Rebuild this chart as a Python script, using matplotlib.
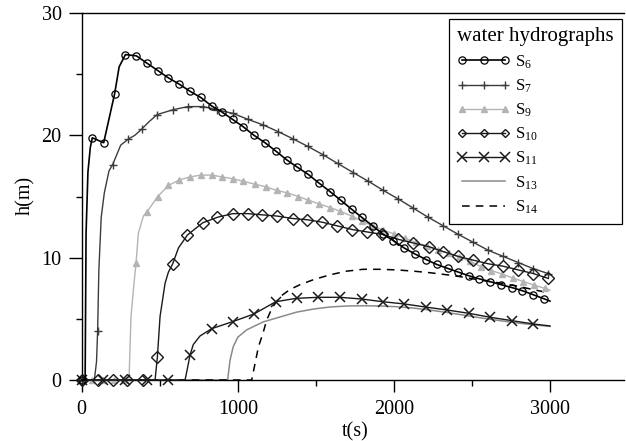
import numpy as np
import matplotlib
matplotlib.use("Agg")
import matplotlib.pyplot as plt

plt.rcParams['font.family'] = ['Liberation Serif', 'DejaVu Serif']
plt.rcParams['mathtext.fontset'] = 'custom'
plt.rcParams['mathtext.rm'] = 'Liberation Serif'
plt.rcParams['mathtext.it'] = 'Liberation Serif:italic'

# --- S6 (circles): sampled points shown with markers, extra points on the steep parts
t6 = [0, 68, 141, 211, 280, 350, 418, 487, 555, 623, 694, 762, 833, 899, 967, 1035,
      1104, 1174, 1245, 1313, 1381, 1452, 1520, 1591, 1659, 1730, 1794, 1864, 1932,
      1996, 2065, 2135, 2206, 2274, 2345, 2413, 2481, 2547, 2616, 2684, 2755, 2823,
      2893, 2962]
h6 = [0, 19.8, 19.4, 23.4, 26.6, 26.5, 25.9, 25.3, 24.7, 24.2, 23.6, 23.1, 22.4, 21.9,
      21.3, 20.7, 20.0, 19.4, 18.7, 18.0, 17.4, 16.8, 16.1, 15.4, 14.7, 13.95, 13.3,
      12.6, 11.9, 11.4, 10.8, 10.3, 9.85, 9.45, 9.12, 8.82, 8.52, 8.27, 8.04, 7.8,
      7.56, 7.3, 6.97, 6.64]
t6_extra = [22, 28, 40, 55, 240, 3000]
h6_extra = [0, 12, 17, 19, 25.6, 6.45]

# --- S7 (plus)
t7 = [0, 102, 198, 299, 384, 484, 587, 681, 779, 865, 967, 1067, 1163, 1259, 1356,
      1448, 1548, 1640, 1740, 1836, 1932, 2028, 2124, 2220, 2317, 2413, 2509, 2605,
      2701, 2797, 2893, 2989]
h7 = [0, 4.0, 17.6, 19.7, 20.5, 21.7, 22.1, 22.35, 22.35, 22.1, 21.8, 21.3, 20.85,
      20.3, 19.7, 19.1, 18.4, 17.7, 16.95, 16.25, 15.5, 14.8, 14.05, 13.3, 12.6, 11.9,
      11.25, 10.6, 10.1, 9.6, 9.1, 8.7]
t7_extra = [81, 95, 110, 125, 145, 175, 250, 340, 430, 3000]
h7_extra = [0, 1.5, 9.0, 13.3, 15.3, 17.1, 19.2, 20.0, 21.1, 8.6]

# --- S9 (triangles)
t9 = [0, 69, 139, 208, 278, 348, 416, 487, 555, 625, 694, 762, 833, 901, 967, 1035,
      1110, 1179, 1249, 1317, 1388, 1452, 1520, 1591, 1655, 1730, 1794, 1864, 1932,
      2000, 2070, 2140, 2210, 2280, 2350, 2420, 2490, 2560, 2625, 2695, 2760, 2830,
      2900, 2965]
h9 = [0, 0, 0, 0, 0, 9.54, 13.7, 15.0, 15.9, 16.35, 16.6, 16.75, 16.75, 16.6, 16.45,
      16.25, 16.0, 15.8, 15.5, 15.3, 15.0, 14.7, 14.4, 14.1, 13.8, 13.4, 13.0, 12.6,
      12.25, 11.95, 11.6, 11.25, 10.95, 10.65, 10.35, 10.05, 9.7, 9.25, 8.95, 8.65,
      8.35, 8.05, 7.75, 7.5]
t9_extra = [303, 316, 335, 363, 395, 3000]
h9_extra = [0, 5.2, 7.9, 12.0, 13.4, 7.35]

# --- S10 (diamonds)
t10 = [0, 102, 199, 288, 395, 485, 583, 677, 775, 869, 967, 1063, 1157, 1253, 1352,
       1445, 1541, 1637, 1734, 1830, 1926, 2028, 2124, 2225, 2316, 2413, 2509, 2605,
       2701, 2797, 2893, 2989]
h10 = [0, 0, 0, 0, 0, 1.9, 9.5, 11.85, 12.85, 13.3, 13.6, 13.6, 13.5, 13.4, 13.2,
       13.1, 12.9, 12.6, 12.3, 12.1, 11.9, 11.5, 11.2, 10.9, 10.5, 10.1, 9.8, 9.5,
       9.3, 9.0, 8.7, 8.3]
t10_extra = [470, 502, 534, 555, 620]
h10_extra = [0, 5.2, 7.9, 8.8, 10.8]

# --- S11 (crosses)
t11 = [0, 139, 278, 416, 555, 694, 833, 967, 1104, 1243, 1377, 1516, 1655, 1794,
       1928, 2065, 2206, 2342, 2481, 2616, 2757, 2893]
h11 = [0, 0, 0, 0, 0, 2.04, 4.2, 4.77, 5.4, 6.4, 6.68, 6.76, 6.76, 6.62, 6.4, 6.22,
       5.96, 5.72, 5.45, 5.13, 4.85, 4.58]
t11_extra = [662, 675, 715, 758, 3000]
h11_extra = [0, 0.8, 2.9, 3.6, 4.42]

# --- S13 (grey line)
t13 = [0, 935, 950, 970, 1000, 1057, 1163, 1270, 1377, 1484, 1591, 1700, 1804, 1910,
       2018, 2125, 2231, 2340, 2450, 2560, 2670, 2780, 2890, 3000]
h13 = [0, 0, 1.6, 2.7, 3.5, 4.1, 4.75, 5.15, 5.55, 5.8, 5.97, 6.05, 6.07, 6.05, 5.99,
       5.88, 5.72, 5.52, 5.3, 5.07, 4.87, 4.68, 4.52, 4.38]

# --- S14 (dashed line)
t14 = [0, 1089, 1132, 1163, 1185, 1220, 1270, 1334, 1400, 1484, 1591, 1698, 1804,
       1910, 2018, 2125, 2231, 2340, 2450, 2560, 2670, 2780, 2890, 3000]
h14 = [0, 0, 2.7, 3.9, 4.9, 5.9, 6.8, 7.4, 7.8, 8.2, 8.6, 8.9, 9.05, 9.05, 9.0, 8.9,
       8.77, 8.6, 8.4, 8.15, 7.95, 7.7, 7.4, 7.1]


def merge(tm, hm, te, he):
    t = np.concatenate([tm, te]).astype(float)
    h = np.concatenate([hm, he]).astype(float)
    flag = np.r_[np.ones(len(tm)), np.zeros(len(te))]
    order = np.argsort(t, kind='stable')
    return t[order], h[order], list(np.flatnonzero(flag[order]))


fig = plt.figure(figsize=(6.26, 4.41), dpi=100)
ax = fig.add_axes([0.1305, 0.1383, 0.8663, 0.8322])

t, h, mk = merge(t6, h6, t6_extra, h6_extra)
ax.plot(t, h, color='black', lw=1.2, marker='o', ms=5.2, mfc='none', mec='black',
        mew=0.9, markevery=mk, label=r'$\mathrm{S}_{6}$', clip_on=False, zorder=6)

t, h, mk = merge(t7, h7, t7_extra, h7_extra)
ax.plot(t, h, color='#3c3c3c', lw=1.0, marker='+', ms=6, mew=1.0,
        markevery=mk, label=r'$\mathrm{S}_{7}$', clip_on=False, zorder=5)

t, h, mk = merge(t9, h9, t9_extra, h9_extra)
ax.plot(t, h, color='#b4b4b4', lw=1.0, marker='^', ms=4.5, mfc='#b4b4b4',
        mec='#b4b4b4', markevery=mk, label=r'$\mathrm{S}_{9}$', clip_on=False, zorder=4)

t, h, mk = merge(t10, h10, t10_extra, h10_extra)
ax.plot(t, h, color='#1a1a1a', lw=1.0, marker='D', ms=6.5, mfc='none', mec='#1a1a1a',
        mew=1.0, markevery=mk, label=r'$\mathrm{S}_{10}$', clip_on=False, zorder=5)

t, h, mk = merge(t11, h11, t11_extra, h11_extra)
ax.plot(t, h, color='#1a1a1a', lw=1.0, marker='x', ms=7, mew=1.1,
        markevery=mk, label=r'$\mathrm{S}_{11}$', clip_on=False, zorder=5)

ax.plot(t13, h13, color='#8a8a8a', lw=1.1, label=r'$\mathrm{S}_{13}$', clip_on=False)
ax.plot(t14, h14, color='black', lw=1.1, ls=(0, (5, 4)), label=r'$\mathrm{S}_{14}$',
        clip_on=False)

ax.set_xlim(0, 3474)
ax.set_ylim(0, 30)
ax.set_xticks([0, 1000, 2000, 3000])
ax.set_xticks([500, 1500, 2500], minor=True)
ax.set_yticks([0, 10, 20, 30])
ax.set_yticks([5, 15, 25], minor=True)
ax.spines['right'].set_visible(False)
for s in ['left', 'bottom', 'top']:
    ax.spines[s].set_linewidth(1.0)
ax.tick_params(axis='y', which='major', direction='out', length=9.5, width=1.0,
               labelsize=14.5, pad=5)
ax.tick_params(axis='y', which='minor', direction='out', length=4.5, width=1.0)
ax.tick_params(axis='x', which='major', direction='out', length=8.4, width=1.0,
               labelsize=14.5, pad=6)
ax.tick_params(axis='x', which='minor', direction='out', length=4.2, width=1.0)

ax.set_xlabel('t(s)', fontsize=14.5)
ax.set_ylabel('h(m)', fontsize=14.5)
ax.xaxis.set_label_coords(0.504, -0.116)
ax.yaxis.set_label_coords(-0.086, 0.504)

leg = ax.legend(loc='upper right', bbox_to_anchor=(0.9963, 0.9837), borderaxespad=0,
                title='water hydrographs', title_fontsize=15, fontsize=12,
                numpoints=3, handlelength=3.2, handletextpad=0.25, labelspacing=0.41,
                fancybox=False, edgecolor='black', framealpha=1, borderpad=0.5,
                alignment='left')
leg.get_frame().set_linewidth(0.9)
for hd in leg.legend_handles:
    if hd.get_marker() == 'D':
        hd.set_markersize(4.0)
    elif hd.get_marker() == 'x':
        hd.set_markersize(6.5)

fig.savefig('out.png', dpi=100)
